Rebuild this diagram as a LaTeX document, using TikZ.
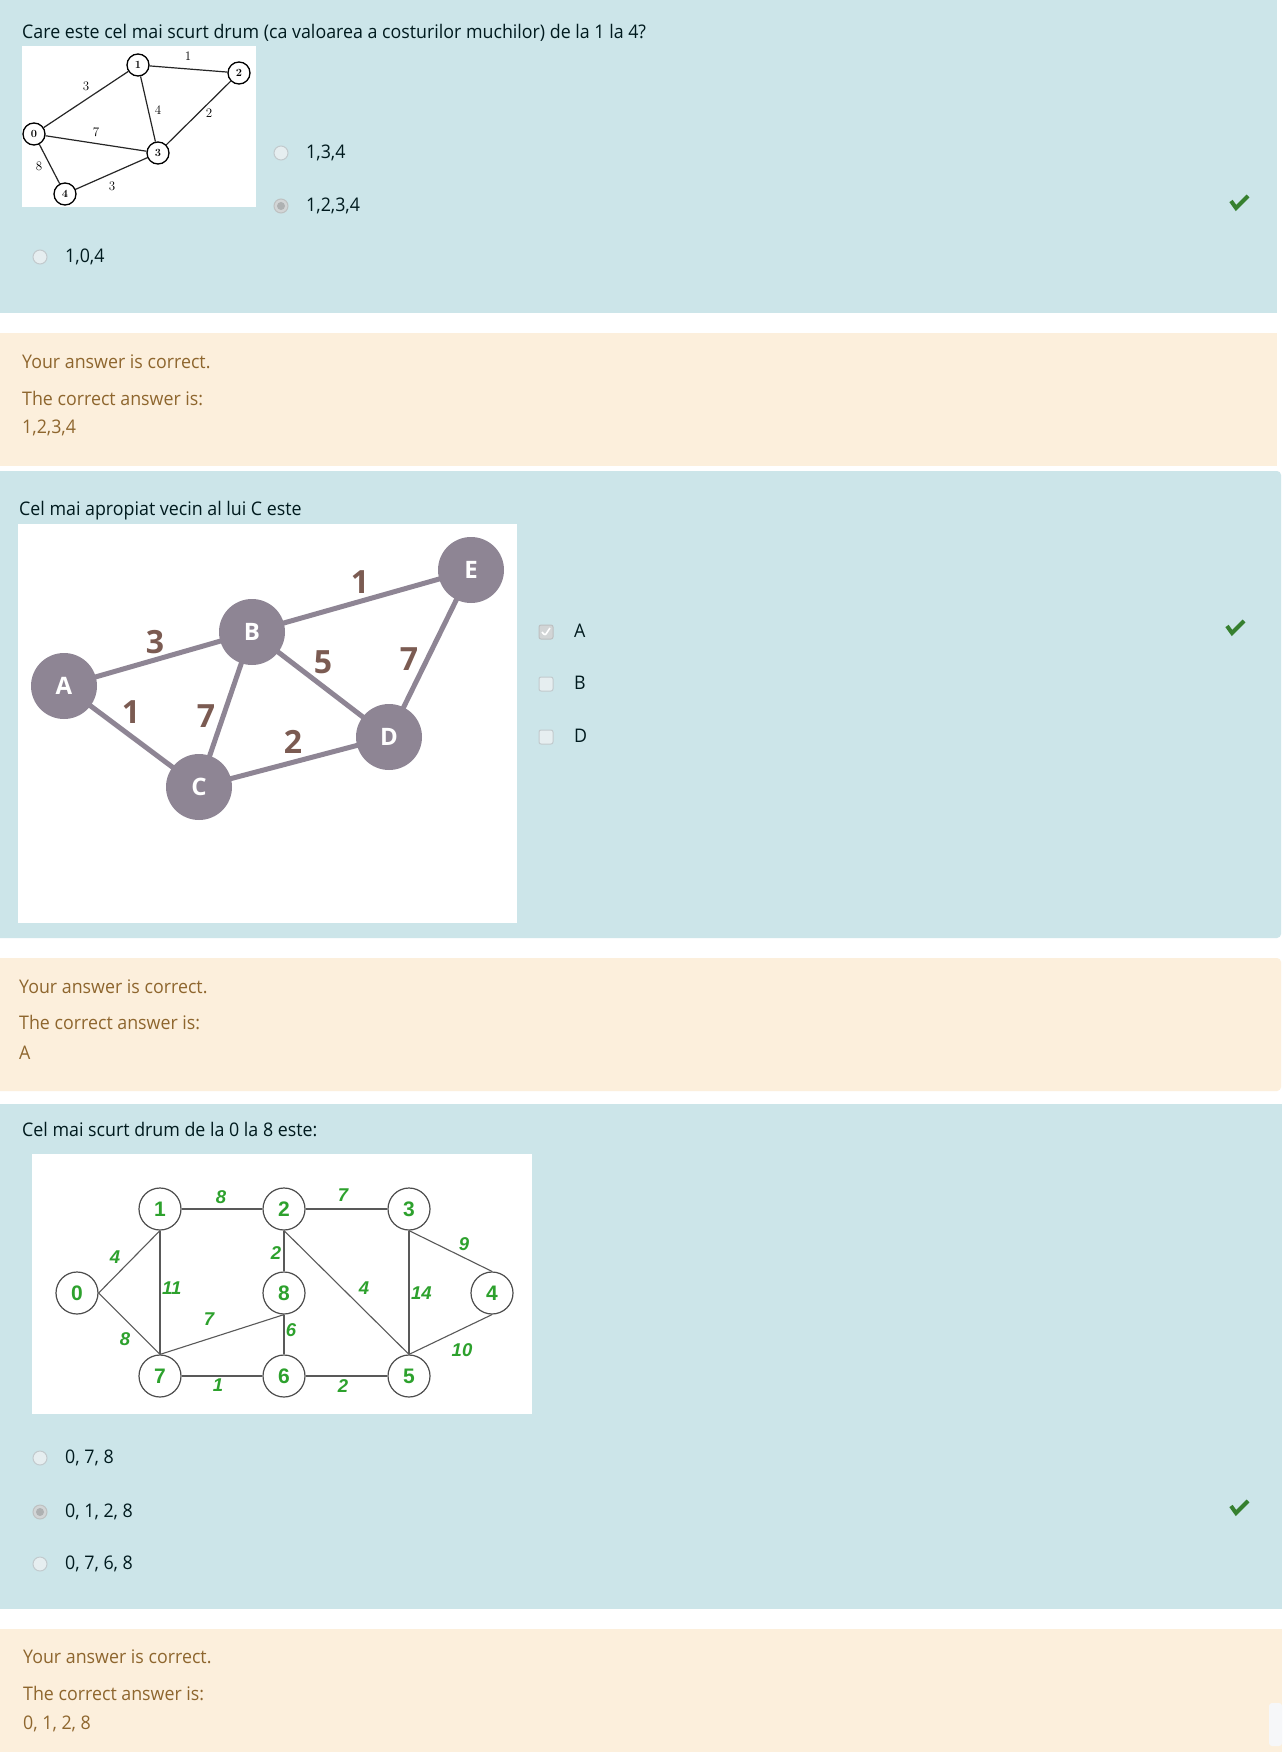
\documentclass[tikz,border=0pt]{standalone}
\usepackage{fontspec}
\setsansfont[FakeStretch=0.95]{Open Sans}
\newfontfamily\gtwo{Open Sans}
\newfontfamily\gthree{Liberation Sans}
\definecolor{panelblue}{HTML}{CCE5E9}
\definecolor{panelorange}{HTML}{FCEFDC}
\definecolor{qtext}{HTML}{001A1E}
\definecolor{fbtext}{HTML}{8E662E}
\definecolor{okgreen}{HTML}{36802F}
\definecolor{radiofill}{HTML}{E6EEF0}
\definecolor{radioborder}{HTML}{C2CACD}
\definecolor{selfill}{HTML}{D2D5D6}
\definecolor{seldot}{HTML}{AEB1B2}
\definecolor{gtwonode}{HTML}{8E8594}
\definecolor{gtwolabel}{HTML}{7B5B52}
\definecolor{gthreegreen}{HTML}{2DA12D}
\definecolor{scrollgrey}{HTML}{F6F7F9}
\pgfdeclarelayer{bg}
\pgfdeclarelayer{edges}
\pgfsetlayers{bg,edges,main}
\tikzset{
  txt/.style={anchor=mid west, inner sep=0pt, yshift=-3.5pt, font=\sffamily\fontsize{18.75}{22}\selectfont, text=qtext},
  fbtxt/.style={txt, text=fbtext},
  radio/.style={circle, minimum size=14pt, inner sep=0pt, draw=radioborder, fill=radiofill, line width=1pt},
  radiosel/.style={radio, draw=seldot!80, fill=selfill, path picture={\fill[seldot] (path picture bounding box.center) circle (4pt);}},
  cbox/.style={rectangle, rounded corners=2pt, minimum size=14pt, inner sep=0pt, draw=radioborder, fill=radiofill, line width=1pt},
  cboxon/.style={cbox, draw=selfill!90!black, fill=selfill, path picture={\draw[white, line width=1.6pt] ([shift={(-4pt,0pt)}]path picture bounding box.center) -- ([shift={(-1pt,-3.5pt)}]path picture bounding box.center) -- ([shift={(4pt,4pt)}]path picture bounding box.center);}},
  okmark/.style={okgreen, line width=4pt, line join=miter},
  gonenode/.style={circle, draw=black, line width=1.3pt, fill=white, minimum size=22pt, inner sep=0pt, font=\rmfamily\bfseries\fontsize{11}{12}\selectfont},
  gonelabel/.style={inner sep=0pt, font=\rmfamily\fontsize{13}{14}\selectfont},
  goneedge/.style={draw=black!85, line width=1.2pt},
  gtwonodestyle/.style={circle, fill=gtwonode, minimum size=66pt, inner sep=0pt, text=white, font=\gtwo\bfseries\fontsize{24}{26}\selectfont},
  gtwolabelstyle/.style={inner sep=0pt, text=gtwolabel, font=\gtwo\bfseries\fontsize{32}{34}\selectfont},
  gtwoedge/.style={draw=gtwonode, line width=5pt},
  gthreenode/.style={circle, draw=black!70, line width=1.2pt, fill=white, minimum size=42pt, inner sep=0pt, text=gthreegreen, font=\gthree\bfseries\fontsize{21}{23}\selectfont},
  gthreelabel/.style={inner sep=0pt, text=gthreegreen, font=\gthree\bfseries\itshape\fontsize{18.5}{20}\selectfont},
  gthreeedge/.style={draw=black!65, line width=1.1pt},
}
\begin{document}
\begin{tikzpicture}[x=1pt, y=-1pt]
\useasboundingbox (0,0) rectangle (1287,1752);
\begin{pgfonlayer}{bg}
  \fill[white] (0,0) rectangle (1287,1752);
  % panel 1
  \fill[panelblue] (0,0) rectangle (1277,313);
  \fill[panelorange] (0,333) rectangle (1277,466);
  % panel 2
  \fill[panelblue, rounded corners=4pt] (-10,471) rectangle (1281,938);
  \fill[panelorange, rounded corners=4pt] (-10,958) rectangle (1281,1091);
  % panel 3
  \fill[panelblue] (0,1104) rectangle (1282,1609);
  \fill[panelorange] (0,1629) rectangle (1282,1752);
  \fill[scrollgrey, rounded corners=3pt] (1269,1703) rectangle (1282,1746);
  % white image boxes
  \fill[white] (22,46) rectangle (256,207);
  \fill[white] (18,524) rectangle (517,923);
  \fill[white] (32,1154) rectangle (532,1414);
\end{pgfonlayer}

% ===== Question 1 =====
\node[txt] (q1) at (22,33) {Care este cel mai scurt drum (ca valoarea a costurilor muchilor) de la 1 la 4?};
\node[gonenode] (a0) at (34,134) {0};
\node[gonenode] (a1) at (138,65) {1};
\node[gonenode] (a2) at (239,73) {2};
\node[gonenode] (a3) at (158,153) {3};
\node[gonenode] (a4) at (65,194) {4};
\begin{pgfonlayer}{edges}
  \draw[goneedge] (a0) -- (a1);
  \draw[goneedge] (a1) -- (a2);
  \draw[goneedge] (a1) -- (a3);
  \draw[goneedge] (a2) -- (a3);
  \draw[goneedge] (a0) -- (a3);
  \draw[goneedge] (a0) -- (a4);
  \draw[goneedge] (a4) -- (a3);
\end{pgfonlayer}
\node[gonelabel] (la12) at (188,56) {1};
\node[gonelabel] (la01) at (86,86) {3};
\node[gonelabel] (la13) at (158,110) {4};
\node[gonelabel] (la23) at (209,113) {2};
\node[gonelabel] (la03) at (96,132) {7};
\node[gonelabel] (la04) at (39,166) {8};
\node[gonelabel] (la43) at (112,186) {3};

\node[radio] (r1a) at (281,153) {};
\node[txt] (t1a) at (306,153) {1,3,4};
\node[radiosel] (r1b) at (281,206) {};
\node[txt] (t1b) at (306,206) {1,2,3,4};
\node[radio] (r1c) at (40,257) {};
\node[txt] (t1c) at (65,257) {1,0,4};
\draw[okmark] (1231,201) -- (1236,208) -- (1248,196);

\node[fbtxt] (f1a) at (22,363) {Your answer is correct.};
\node[fbtxt] (f1b) at (22,400) {The correct answer is:};
\node[fbtxt] (f1c) at (22,428) {1,2,3,4};

% ===== Question 2 =====
\node[txt] (q2) at (19,510) {Cel mai apropiat vecin al lui C este};
\node[gtwonodestyle] (A) at (64,686) {A};
\node[gtwonodestyle] (B) at (252,632) {B};
\node[gtwonodestyle] (E) at (471,570) {E};
\node[gtwonodestyle] (C) at (199,787) {C};
\node[gtwonodestyle] (D) at (389,737) {D};
\begin{pgfonlayer}{edges}
  \draw[gtwoedge] (A.center) -- (B.center);
  \draw[gtwoedge] (A.center) -- (C.center);
  \draw[gtwoedge] (B.center) -- (C.center);
  \draw[gtwoedge] (B.center) -- (E.center);
  \draw[gtwoedge] (B.center) -- (D.center);
  \draw[gtwoedge] (C.center) -- (D.center);
  \draw[gtwoedge] (D.center) -- (E.center);
\end{pgfonlayer}
\node[gtwolabelstyle] (lAB) at (155,642) {3};
\node[gtwolabelstyle] (lBE) at (360,582) {1};
\node[gtwolabelstyle] (lBD) at (323,662) {5};
\node[gtwolabelstyle] (lDE) at (409,659) {7};
\node[gtwolabelstyle] (lAC) at (131,712) {1};
\node[gtwolabelstyle] (lBC) at (206,716) {7};
\node[gtwolabelstyle] (lCD) at (293,742) {2};

\node[cboxon] (c2a) at (546,632) {};
\node[txt] (t2a) at (574,632) {A};
\node[cbox] (c2b) at (546,684) {};
\node[txt] (t2b) at (574,684) {B};
\node[cbox] (c2c) at (546,737) {};
\node[txt] (t2c) at (574,737) {D};
\draw[okmark] (1227,626) -- (1232,633) -- (1244,621);

\node[fbtxt] (f2a) at (19,988) {Your answer is correct.};
\node[fbtxt] (f2b) at (19,1024) {The correct answer is:};
\node[fbtxt] (f2c) at (19,1054) {A};

% ===== Question 3 =====
\node[txt] (q3) at (22,1131) {Cel mai scurt drum de la 0 la 8 este:};
\node[gthreenode] (n0) at (77,1293) {0};
\node[gthreenode] (n1) at (160,1209) {1};
\node[gthreenode] (n2) at (284,1209) {2};
\node[gthreenode] (n3) at (409,1209) {3};
\node[gthreenode] (n4) at (492,1293) {4};
\node[gthreenode] (n8) at (284,1293) {8};
\node[gthreenode] (n7) at (160,1376) {7};
\node[gthreenode] (n6) at (284,1376) {6};
\node[gthreenode] (n5) at (409,1376) {5};
\draw[gthreeedge] (n0.east) -- (n1.south);
\draw[gthreeedge] (n0.east) -- (n7.north);
\draw[gthreeedge] (n1.east) -- (n2.west);
\draw[gthreeedge] (n1.south) -- (n7.north);
\draw[gthreeedge] (n2.east) -- (n3.west);
\draw[gthreeedge] (n2.south) -- (n8.north);
\draw[gthreeedge] (n2.south) -- (n5.north);
\draw[gthreeedge] (n8.south) -- (n7.north);
\draw[gthreeedge] (n8.south) -- (n6.north);
\draw[gthreeedge] (n7.east) -- (n6.west);
\draw[gthreeedge] (n6.east) -- (n5.west);
\draw[gthreeedge] (n3.south) -- (n5.north);
\draw[gthreeedge] (n3.south) -- (n4.north);
\draw[gthreeedge] (n4.south) -- (n5.north);
\node[gthreelabel] (m12) at (221,1197) {8};
\node[gthreelabel] (m23) at (343,1195) {7};
\node[gthreelabel] (m01) at (115,1257) {4};
\node[gthreelabel] (m34) at (464,1244) {9};
\node[gthreelabel] (m28) at (276,1253) {2};
\node[gthreelabel, anchor=west] (m17) at (162,1288) {11};
\node[gthreelabel] (m25) at (364,1288) {4};
\node[gthreelabel, anchor=west] (m35) at (411,1293) {14};
\node[gthreelabel] (m87) at (209,1319) {7};
\node[gthreelabel] (m86) at (291,1330) {6};
\node[gthreelabel] (m07) at (125,1339) {8};
\node[gthreelabel] (m45) at (462,1350) {10};
\node[gthreelabel] (m76) at (218,1385) {1};
\node[gthreelabel] (m65) at (343,1386) {2};

\node[radio] (r3a) at (40,1458) {};
\node[txt] (t3a) at (65,1458) {0, 7, 8};
\node[radiosel] (r3b) at (40,1512) {};
\node[txt] (t3b) at (65,1512) {0, 1, 2, 8};
\node[radio] (r3c) at (40,1564) {};
\node[txt] (t3c) at (65,1564) {0, 7, 6, 8};
\draw[okmark] (1231,1506) -- (1236,1513) -- (1248,1501);

\node[fbtxt] (f3a) at (23,1658) {Your answer is correct.};
\node[fbtxt] (f3b) at (23,1695) {The correct answer is:};
\node[fbtxt] (f3c) at (23,1724) {0, 1, 2, 8};
\end{tikzpicture}
\end{document}
